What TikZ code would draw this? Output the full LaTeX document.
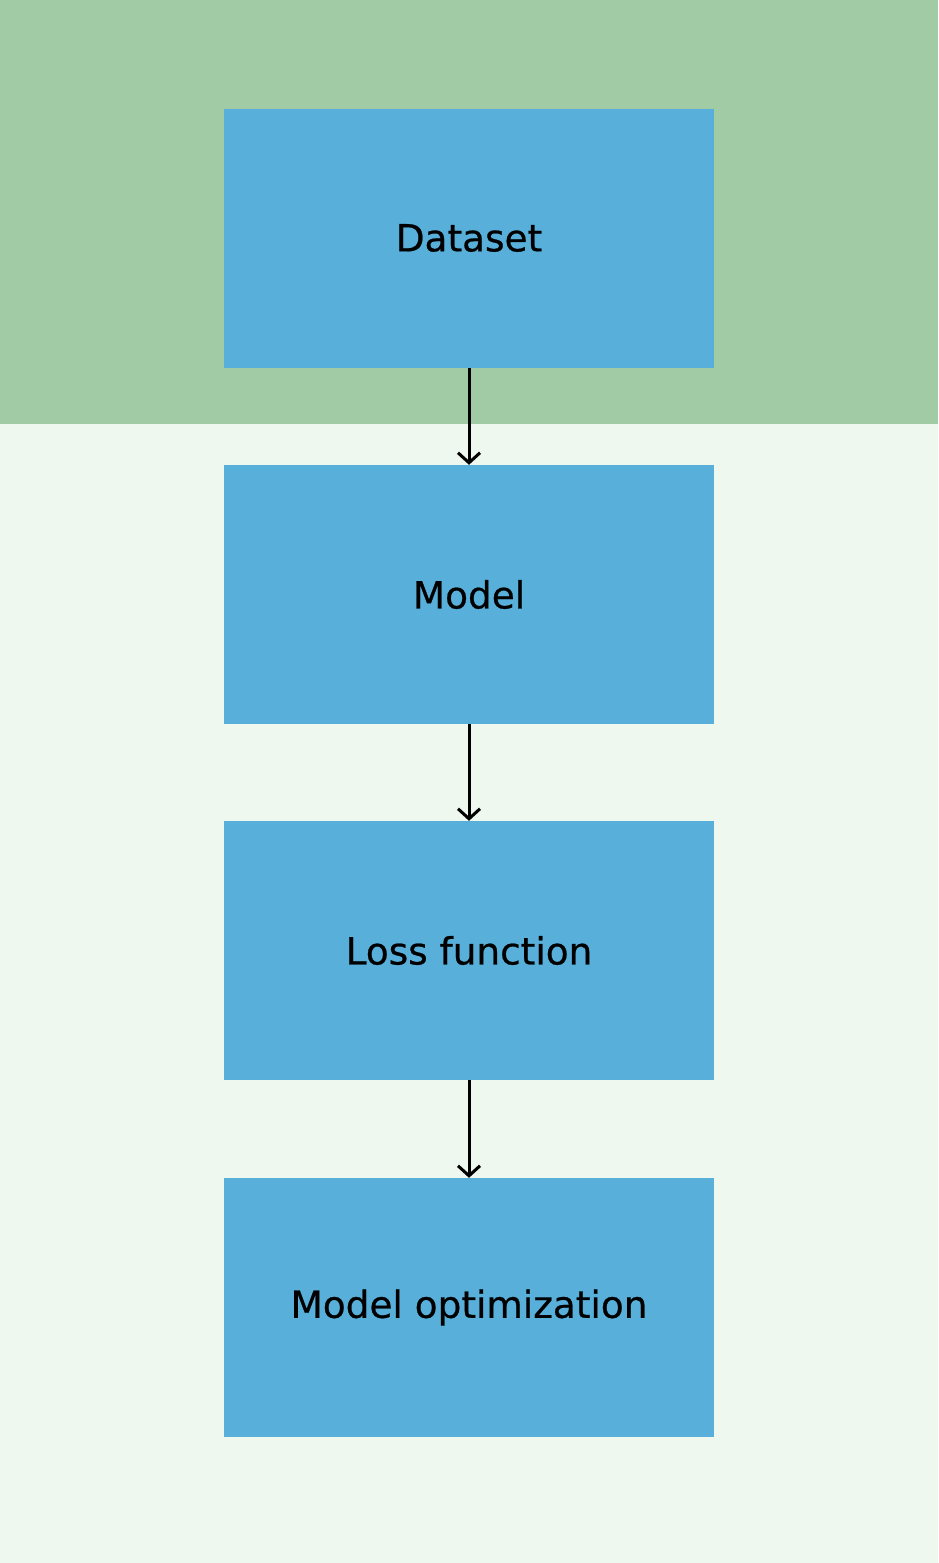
\documentclass[tikz,border=0pt]{standalone}
\usepackage{fontspec}
\setmainfont{DejaVu Sans}[BoldFont=DejaVu Sans, BoldFeatures={FakeBold=0.6}]
\usetikzlibrary{arrows.meta}
\definecolor{bandgreen}{HTML}{A1CBA5}
\definecolor{paleground}{HTML}{EEF8EF}
\definecolor{boxblue}{HTML}{57AFDA}
\begin{document}
\begin{tikzpicture}[x=1pt,y=-1pt,
  stage/.style={fill=boxblue, draw=none, minimum width=490pt, minimum height=259pt,
    inner sep=0pt, font=\bfseries\fontsize{37.4}{44}\selectfont},
  flow/.style={draw=black, line width=3pt,
    -{Straight Barb[length=10pt,width=22pt,line width=3pt]}}]
  % background areas
  \fill[paleground] (0,0) rectangle (938,1563);
  \fill[bandgreen] (0,0) rectangle (938,424);
  \useasboundingbox (0,0) rectangle (938,1563);
  % pipeline stages
  \node[stage] (data)  at (469,238)  {Dataset};
  \node[stage] (model) at (469,594.5)  {Model};
  \node[stage] (loss)  at (469,950.5)  {Loss function};
  \node[stage] (opt)   at (469,1307.5) {Model optimization};
  % connectors
  \draw[flow] (data.south) -- (model.north);
  \draw[flow] (model.south) -- (loss.north);
  \draw[flow] (loss.south) -- (opt.north);
\end{tikzpicture}
\end{document}
